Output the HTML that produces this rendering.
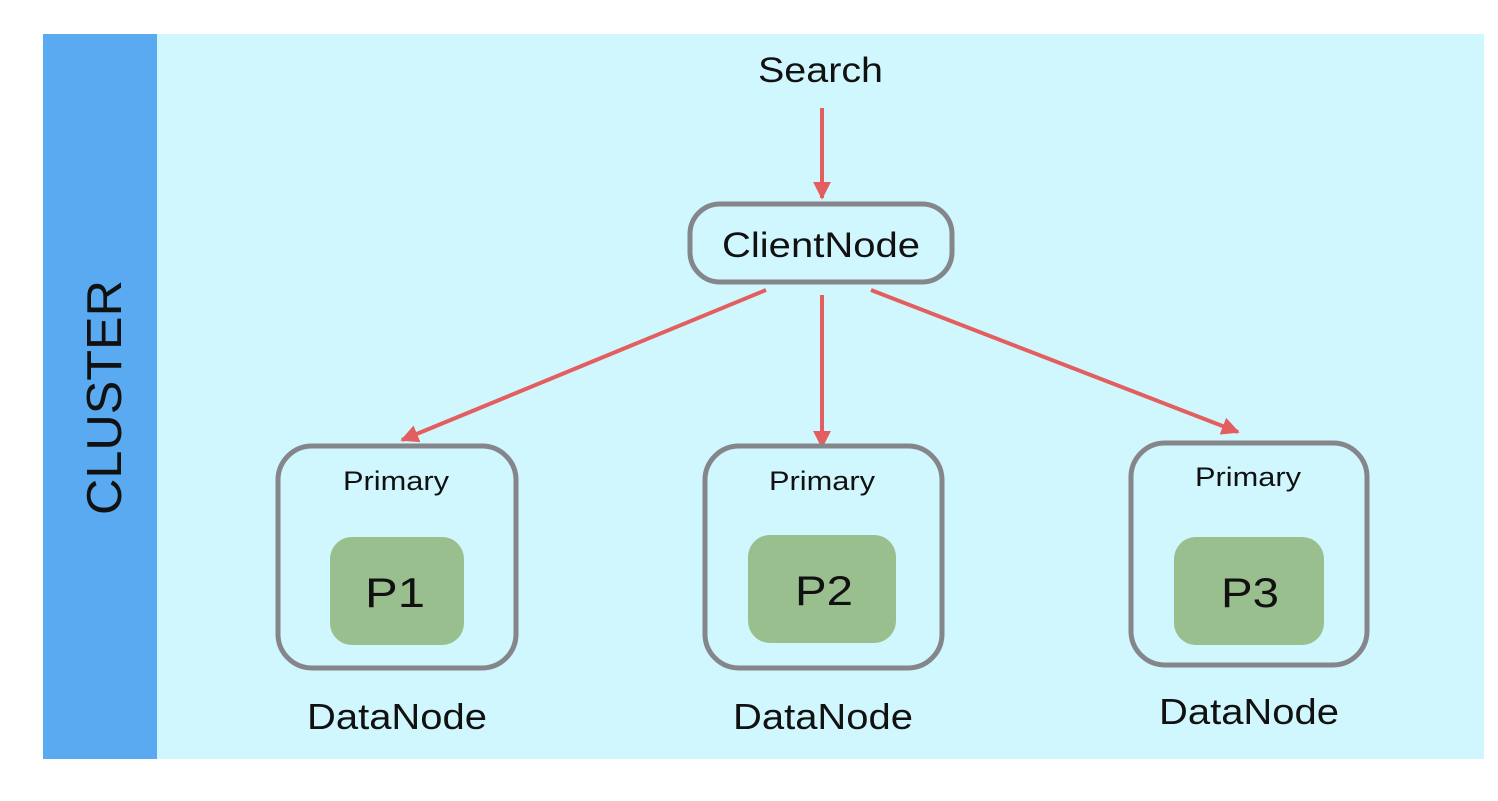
<!DOCTYPE html>
<html><head><style>
body{margin:0;width:1498px;height:796px;background:#fff;overflow:hidden}
</style></head><body>
<svg width="1498" height="796" xmlns="http://www.w3.org/2000/svg" font-family="Liberation Sans, sans-serif">
<defs>
<marker id="b" viewBox="0 0 10 10" refX="9" refY="5" markerWidth="18" markerHeight="18" orient="auto" markerUnits="userSpaceOnUse"><path d="M0,0 L10,5 L0,10 z" fill="#e35f5f"/></marker></defs>
<rect x="43" y="34" width="114" height="725" fill="#5aaaf2"/>
<rect x="157" y="34" width="1327" height="725" fill="#d0f6fe"/>
<text transform="translate(121,515) rotate(-90)" font-size="49" fill="#111" textLength="235" lengthAdjust="spacingAndGlyphs">CLUSTER</text>
<text x="758" y="82" font-size="35" fill="#111" textLength="125" lengthAdjust="spacingAndGlyphs">Search</text>
<g stroke="#e35f5f" stroke-width="4" fill="none">
<line x1="822" y1="108" x2="822" y2="198" marker-end="url(#b)"/>
<line x1="766" y1="290" x2="402" y2="440" marker-end="url(#b)"/>
<line x1="822" y1="295" x2="822" y2="447" marker-end="url(#b)"/>
<line x1="871" y1="290" x2="1238" y2="432" marker-end="url(#b)"/>
</g>
<rect x="690" y="204" width="262" height="78" rx="30" fill="#d0f6fe" stroke="#85868b" stroke-width="5"/>
<text x="722" y="257" font-size="35" fill="#111" textLength="198" lengthAdjust="spacingAndGlyphs">ClientNode</text>
<g stroke="#85868b" stroke-width="5" fill="none">
<rect x="278" y="446" width="238" height="222" rx="34"/>
<rect x="705" y="446" width="237" height="222" rx="34"/>
<rect x="1131" y="443" width="236" height="222" rx="34"/>
</g>
<g fill="#9abf8f">
<rect x="330" y="537" width="134" height="108" rx="22"/>
<rect x="748" y="535" width="148" height="108" rx="22"/>
<rect x="1174" y="537" width="150" height="108" rx="22"/>
</g>
<g font-size="27" fill="#111">
<text x="343" y="490" textLength="106" lengthAdjust="spacingAndGlyphs">Primary</text>
<text x="769" y="490" textLength="106" lengthAdjust="spacingAndGlyphs">Primary</text>
<text x="1195" y="486" textLength="106" lengthAdjust="spacingAndGlyphs">Primary</text>
</g>
<g font-size="42" fill="#111">
<text x="365" y="607" textLength="60" lengthAdjust="spacingAndGlyphs">P1</text>
<text x="795" y="605" textLength="58" lengthAdjust="spacingAndGlyphs">P2</text>
<text x="1221" y="607" textLength="58" lengthAdjust="spacingAndGlyphs">P3</text>
</g>
<g font-size="36" fill="#111">
<text x="307" y="729" textLength="180" lengthAdjust="spacingAndGlyphs">DataNode</text>
<text x="733" y="729" textLength="180" lengthAdjust="spacingAndGlyphs">DataNode</text>
<text x="1159" y="724" textLength="180" lengthAdjust="spacingAndGlyphs">DataNode</text>
</g>
</svg>
</body></html>
